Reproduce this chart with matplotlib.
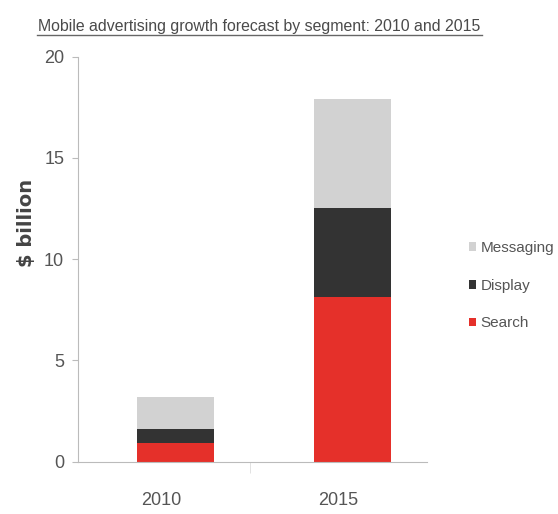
import matplotlib.pyplot as plt
import numpy as np

years = ['2010', '2015']
search = [0.9, 8.15]
display = [0.7, 4.35]
messaging = [1.6, 5.4]

segments = ['Search', 'Display', 'Messaging']
colors = ['#e5302a', '#333333', '#d2d2d2']

plt.rcParams['font.family'] = ['Liberation Sans', 'DejaVu Sans']

fig = plt.figure(figsize=(5.58, 5.14), dpi=100)
ax = fig.add_axes([0.14, 0.102, 0.625, 0.788])

x = np.arange(len(years))
pos = x + 0.08
bottom = np.zeros(len(years))
bars = []
for vals, name, c in zip([search, display, messaging], segments, colors):
    b = ax.bar(pos, vals, 0.44, bottom=bottom, color=c, label=name)
    bars.append(b)
    bottom += np.array(vals)

ax.set_xlim(-0.47, 1.5)
ax.set_ylim(0, 20)
ax.set_yticks([0, 5, 10, 15, 20])
ax.set_xticks(x)
ax.set_xticklabels(years)
ax.set_xticks([0.5], minor=True)

for s in ['top', 'right']:
    ax.spines[s].set_visible(False)
ax.spines['left'].set_color('#bbbbbb')
ax.spines['bottom'].set_color('#bbbbbb')
ax.tick_params(axis='y', colors='#bbbbbb', labelcolor='#555555', labelsize=13, length=4, pad=6)
ax.tick_params(axis='x', which='major', length=0, labelcolor='#555555', labelsize=13, pad=22)
ax.tick_params(axis='x', which='minor', colors='#dddddd', length=8)

ax.set_ylabel('$ billion', fontsize=14, fontweight='bold', color='#444444', labelpad=10, family='DejaVu Sans')
ax.yaxis.set_label_coords(-0.12, 0.59)

leg = ax.legend(handles=bars[::-1], labels=segments[::-1], loc='center left',
                bbox_to_anchor=(1.08, 0.434), frameon=False, fontsize=11,
                handlelength=0.5, handleheight=0.5, handletextpad=0.3, labelspacing=1.55)
for t in leg.get_texts():
    t.set_color('#555555')

fig.text(0.465, 0.949, 'Mobile advertising growth forecast by segment: 2010 and 2015',
         ha='center', va='center', fontsize=11.4, color='#4a4a4a')
fig.add_artist(plt.Line2D([0.066, 0.864], [0.932, 0.932], color='#666666', lw=1))

fig.savefig('out.png', dpi=100)
